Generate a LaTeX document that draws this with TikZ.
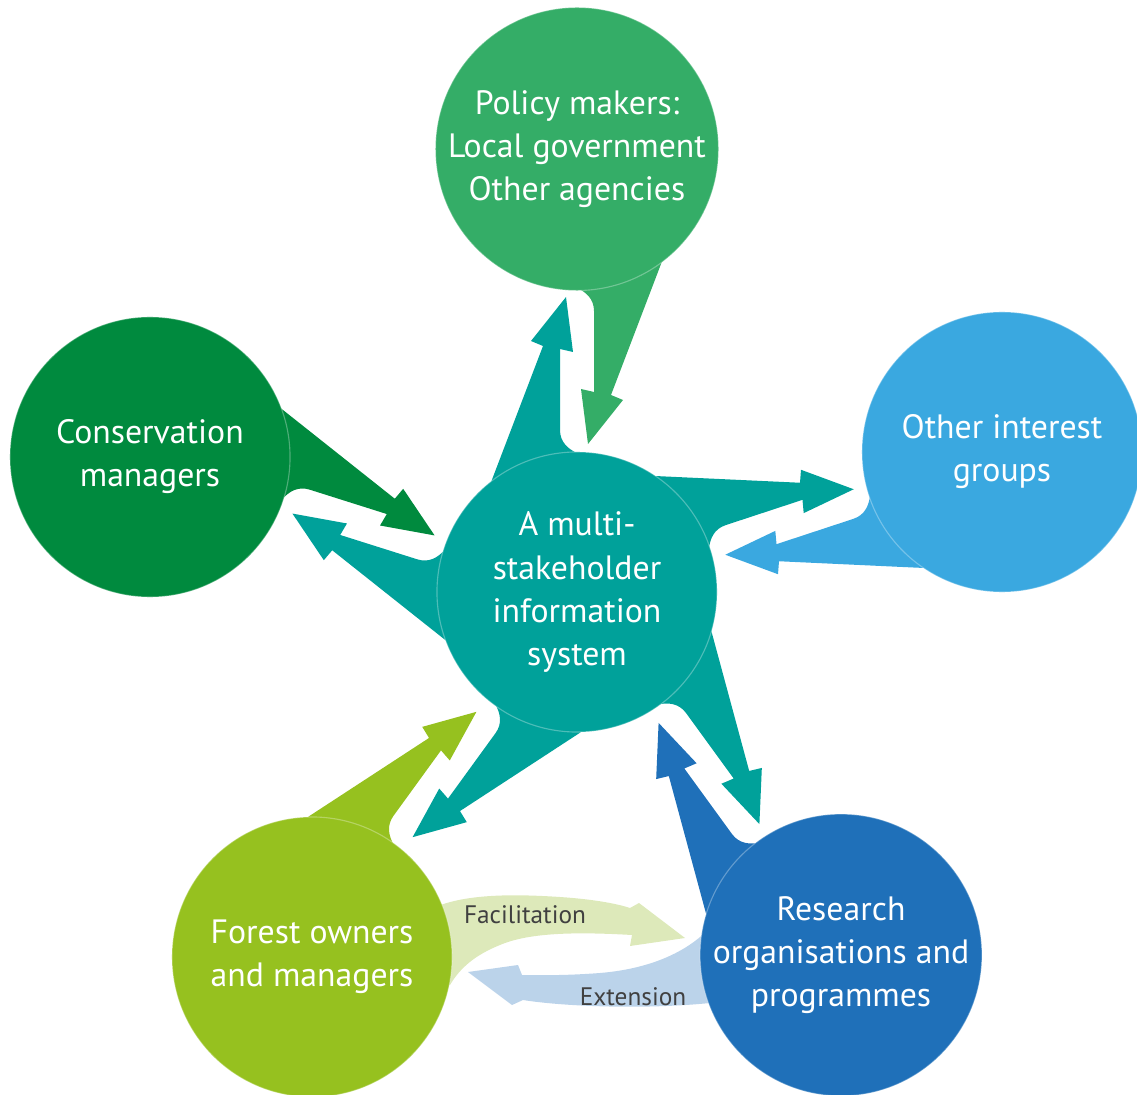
\documentclass[tikz,border=0pt]{standalone}
\usepackage{fontspec}
\setmainfont{PT Sans}
\usetikzlibrary{backgrounds,calc}

\definecolor{hubteal}{RGB}{0,161,154}
\definecolor{policygreen}{RGB}{52,173,103}
\definecolor{consgreen}{RGB}{0,138,62}
\definecolor{interestblue}{RGB}{58,168,224}
\definecolor{forestgreen}{RGB}{150,193,31}
\definecolor{researchblue}{RGB}{31,112,185}
\definecolor{facilgreen}{RGB}{221,233,186}
\definecolor{extblue}{RGB}{187,211,234}
\definecolor{labelgrey}{RGB}{64,64,64}

% tapered arrow from #1 towards #2, running on the left of the line between them
\newcommand{\spokearrow}[3]{%
  \pgfmathanglebetweenpoints{\pgfpointanchor{#1}{center}}{\pgfpointanchor{#2}{center}}%
  \edef\spokeangle{\pgfmathresult}%
  \begin{scope}[shift={(#1.center)}, rotate=\spokeangle, x=0.025cm, y=0.025cm]
    \fill[#3] (60,105) -- (246,34) -- (251,46) -- (295,11) -- (240,4) -- (243,17) -- (162,17)
      .. controls (150,17) and (143,9) .. (139,0) -- (60,0) -- cycle;
  \end{scope}}

\begin{document}
\begin{tikzpicture}[
    x=0.025cm, y=-0.025cm,
    stake/.style={circle, minimum size=7cm, inner sep=0pt, text=white, align=center,
      font=\fontsize{24}{30.6}\selectfont, draw=white, draw opacity=0.3, line width=0.8pt},
    tag/.style={text=labelgrey, inner sep=1pt, font=\fontsize{18}{20}\selectfont},
  ]
  \useasboundingbox (0,0) rectangle (1137,1095);

  \node[stake, fill=hubteal] (hub) at (577,592) {A multi-\\stakeholder\\information\\system};
  \node[stake, fill=policygreen] (policy) at (577,149) {Policy makers:\\Local government\\Other agencies};
  \node[stake, fill=consgreen] (cons) at (150,457) {Conservation\\managers};
  \node[stake, fill=interestblue] (interest) at (1002,452) {Other interest\\groups};
  \node[stake, fill=forestgreen] (forest) at (312,957) {Forest owners\\and managers};
  \node[stake, fill=researchblue] (research) at (841,955) {Research\\organisations and\\programmes};

  \begin{scope}[on background layer]
    % two-way arrows between the hub and each group
    \foreach \peer/\col in {policy/policygreen, cons/consgreen, interest/interestblue,
        forest/forestgreen, research/researchblue}{
      \spokearrow{hub}{\peer}{hubteal}
      \spokearrow{\peer}{hub}{\col}
    }
    % facilitation: forest owners -> research
    \fill[facilgreen] (420,915) .. controls (450,895) and (500,893) .. (560,897)
      .. controls (590,899) and (615,903) .. (630,908) -- (639,903) -- (685,938)
      -- (630,946) -- (632,935) .. controls (580,932) and (530,932) .. (500,945)
      .. controls (475,955) and (460,968) .. (450,985) -- (420,985) -- cycle;
    % extension: research -> forest owners
    \fill[extblue] (740,915) -- (720,915) .. controls (700,945) and (660,968) .. (600,973)
      .. controls (560,976) and (535,975) .. (522,975) -- (518,965) -- (468,972)
      -- (512,1005) -- (523,1000) .. controls (560,1006) and (640,1010) .. (710,1003)
      -- (740,1000) -- cycle;
  \end{scope}

  \node[tag] (facil) at (525,915) {Facilitation};
  \node[tag] (ext) at (633,997) {Extension};
\end{tikzpicture}
\end{document}
